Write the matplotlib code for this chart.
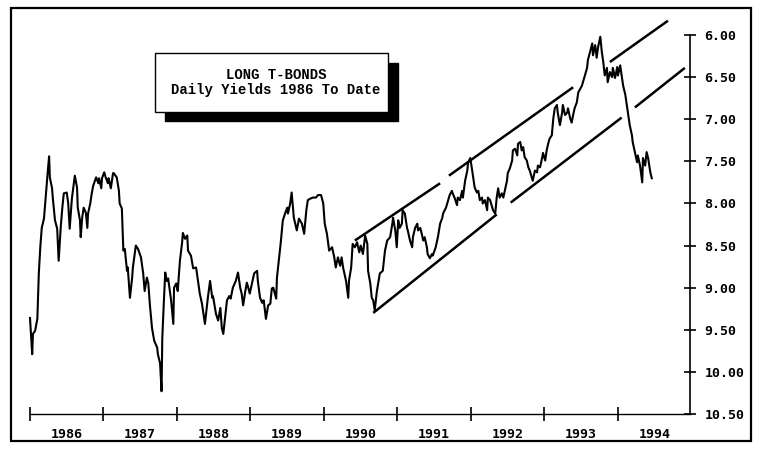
import matplotlib
matplotlib.use('Agg')
import matplotlib.pyplot as plt
from matplotlib.patches import Rectangle

# ---- data ----
# decimal year, long bond yield (%)
years = [
    1986.00, 1986.03, 1986.04, 1986.07, 1986.10, 1986.12, 1986.14, 1986.16, 1986.19, 1986.22,
    1986.24, 1986.26, 1986.27, 1986.30, 1986.31, 1986.34, 1986.37, 1986.39, 1986.42, 1986.44,
    1986.46, 1986.50, 1986.52, 1986.54, 1986.57, 1986.60, 1986.61, 1986.64, 1986.65, 1986.68,
    1986.69, 1986.71, 1986.73, 1986.76, 1986.78, 1986.79, 1986.82, 1986.84, 1986.86, 1986.90,
    1986.93, 1986.94, 1986.97, 1986.98, 1987.01, 1987.03, 1987.06, 1987.07, 1987.10, 1987.13,
    1987.14, 1987.18, 1987.21, 1987.22, 1987.25, 1987.27, 1987.29, 1987.32, 1987.33, 1987.36,
    1987.39, 1987.40, 1987.44, 1987.47, 1987.51, 1987.54, 1987.56, 1987.59, 1987.61, 1987.63,
    1987.66, 1987.69, 1987.73, 1987.74, 1987.77, 1987.79, 1987.80, 1987.82, 1987.84, 1987.86,
    1987.88, 1987.92, 1987.95, 1987.96, 1987.99, 1988.01, 1988.04, 1988.07, 1988.08, 1988.11,
    1988.14, 1988.15, 1988.19, 1988.22, 1988.26, 1988.29, 1988.31, 1988.34, 1988.38, 1988.42,
    1988.45, 1988.48, 1988.49, 1988.53, 1988.56, 1988.59, 1988.61, 1988.63, 1988.65, 1988.68,
    1988.71, 1988.73, 1988.76, 1988.80, 1988.83, 1988.86, 1988.88, 1988.90, 1988.93, 1988.95,
    1988.97, 1988.99, 1989.02, 1989.05, 1989.09, 1989.10, 1989.13, 1989.16, 1989.18, 1989.21,
    1989.24, 1989.27, 1989.29, 1989.31, 1989.35, 1989.36, 1989.39, 1989.41, 1989.44, 1989.47,
    1989.50, 1989.51, 1989.54, 1989.56, 1989.59, 1989.63, 1989.66, 1989.70, 1989.73, 1989.76,
    1989.78, 1989.82, 1989.85, 1989.89, 1989.92, 1989.96, 1989.99, 1990.01, 1990.04, 1990.07,
    1990.11, 1990.14, 1990.16, 1990.19, 1990.22, 1990.24, 1990.26, 1990.30, 1990.33, 1990.34,
    1990.37, 1990.39, 1990.42, 1990.45, 1990.48, 1990.50, 1990.53, 1990.56, 1990.59, 1990.60,
    1990.63, 1990.65, 1990.67, 1990.69, 1990.72, 1990.76, 1990.80, 1990.83, 1990.86, 1990.90,
    1990.93, 1990.94, 1990.97, 1990.99, 1991.01, 1991.03, 1991.06, 1991.07, 1991.10, 1991.13,
    1991.14, 1991.17, 1991.20, 1991.21, 1991.24, 1991.27, 1991.28, 1991.31, 1991.33, 1991.35,
    1991.37, 1991.40, 1991.41, 1991.44, 1991.47, 1991.48, 1991.52, 1991.55, 1991.58, 1991.61,
    1991.62, 1991.66, 1991.69, 1991.71, 1991.74, 1991.76, 1991.78, 1991.81, 1991.82, 1991.85,
    1991.88, 1991.89, 1991.92, 1991.95, 1991.96, 1991.99, 1992.01, 1992.03, 1992.05, 1992.08,
    1992.10, 1992.12, 1992.15, 1992.16, 1992.19, 1992.22, 1992.23, 1992.26, 1992.29, 1992.30,
    1992.33, 1992.35, 1992.37, 1992.39, 1992.42, 1992.44, 1992.46, 1992.49, 1992.50, 1992.53,
    1992.56, 1992.57, 1992.60, 1992.63, 1992.64, 1992.67, 1992.69, 1992.71, 1992.73, 1992.76,
    1992.78, 1992.80, 1992.83, 1992.84, 1992.87, 1992.90, 1992.91, 1992.94, 1992.97, 1992.98,
    1993.01, 1993.03, 1993.05, 1993.07, 1993.10, 1993.12, 1993.14, 1993.17, 1993.18, 1993.21,
    1993.24, 1993.25, 1993.28, 1993.31, 1993.32, 1993.35, 1993.37, 1993.39, 1993.41, 1993.44,
    1993.46, 1993.48, 1993.51, 1993.52, 1993.55, 1993.58, 1993.59, 1993.62, 1993.65, 1993.66,
    1993.69, 1993.71, 1993.73, 1993.76, 1993.78, 1993.80, 1993.82, 1993.85, 1993.86, 1993.89,
    1993.92, 1993.93, 1993.96, 1993.99, 1994.00, 1994.03, 1994.05, 1994.07, 1994.10, 1994.12,
    1994.14, 1994.16, 1994.19, 1994.20, 1994.23, 1994.26, 1994.27, 1994.30, 1994.33, 1994.34,
    1994.37, 1994.39, 1994.41, 1994.44, 1994.46,
]
yields = [
    9.36, 9.79, 9.55, 9.51, 9.37, 8.83, 8.52, 8.29, 8.18, 7.85,
    7.64, 7.44, 7.69, 7.82, 7.93, 8.20, 8.30, 8.68, 8.26, 8.05,
    7.88, 7.87, 8.00, 8.30, 7.94, 7.73, 7.67, 7.81, 8.05, 8.20,
    8.40, 8.17, 8.05, 8.11, 8.29, 8.12, 8.00, 7.88, 7.79, 7.69,
    7.76, 7.70, 7.82, 7.70, 7.63, 7.69, 7.76, 7.70, 7.82, 7.64,
    7.64, 7.69, 7.85, 8.00, 8.06, 8.56, 8.54, 8.80, 8.76, 9.12,
    8.88, 8.76, 8.50, 8.54, 8.64, 8.83, 9.04, 8.88, 8.95, 9.19,
    9.48, 9.63, 9.71, 9.79, 9.90, 10.23, 9.60, 9.19, 8.82, 8.92,
    8.89, 9.15, 9.43, 9.00, 8.95, 9.04, 8.68, 8.46, 8.35, 8.42,
    8.38, 8.56, 8.62, 8.77, 8.76, 8.95, 9.07, 9.19, 9.43, 9.12,
    8.92, 9.12, 9.10, 9.31, 9.39, 9.24, 9.48, 9.55, 9.39, 9.15,
    9.10, 9.13, 9.00, 8.92, 8.82, 9.00, 9.07, 9.21, 9.04, 8.94,
    9.00, 9.07, 8.95, 8.83, 8.80, 8.92, 9.12, 9.18, 9.15, 9.37,
    9.21, 9.19, 9.01, 9.00, 9.13, 8.88, 8.64, 8.48, 8.20, 8.12,
    8.05, 8.12, 8.00, 7.87, 8.17, 8.32, 8.18, 8.24, 8.36, 8.08,
    7.96, 7.94, 7.93, 7.93, 7.90, 7.90, 8.00, 8.24, 8.36, 8.56,
    8.52, 8.64, 8.76, 8.64, 8.74, 8.64, 8.76, 8.92, 9.12, 8.92,
    8.76, 8.48, 8.52, 8.46, 8.58, 8.50, 8.60, 8.38, 8.48, 8.80,
    8.95, 9.12, 9.15, 9.27, 9.04, 8.83, 8.80, 8.56, 8.44, 8.40,
    8.24, 8.17, 8.32, 8.52, 8.20, 8.29, 8.24, 8.08, 8.12, 8.29,
    8.32, 8.44, 8.52, 8.40, 8.29, 8.24, 8.32, 8.29, 8.36, 8.44,
    8.40, 8.52, 8.60, 8.65, 8.60, 8.62, 8.52, 8.40, 8.24, 8.17,
    8.12, 8.05, 7.96, 7.90, 7.85, 7.90, 7.94, 8.02, 7.93, 7.96,
    7.85, 7.93, 7.73, 7.61, 7.52, 7.46, 7.57, 7.69, 7.81, 7.87,
    7.85, 7.96, 7.93, 8.00, 7.96, 8.08, 7.93, 7.96, 8.05, 8.08,
    8.12, 7.93, 7.82, 7.93, 7.88, 7.93, 7.85, 7.73, 7.64, 7.58,
    7.49, 7.37, 7.35, 7.43, 7.29, 7.27, 7.37, 7.33, 7.45, 7.49,
    7.57, 7.61, 7.70, 7.73, 7.61, 7.63, 7.55, 7.57, 7.45, 7.40,
    7.49, 7.37, 7.29, 7.23, 7.19, 6.99, 6.87, 6.83, 6.92, 7.07,
    6.92, 6.83, 6.95, 6.92, 6.87, 6.99, 7.04, 6.95, 6.87, 6.80,
    6.68, 6.65, 6.60, 6.57, 6.48, 6.39, 6.30, 6.20, 6.10, 6.24,
    6.12, 6.27, 6.14, 6.02, 6.20, 6.32, 6.48, 6.39, 6.56, 6.44,
    6.50, 6.39, 6.51, 6.38, 6.48, 6.36, 6.48, 6.60, 6.71, 6.83,
    6.95, 7.07, 7.19, 7.27, 7.39, 7.51, 7.43, 7.55, 7.75, 7.46,
    7.55, 7.39, 7.46, 7.63, 7.70,
]

# trend channel, drawn as broken pieces: (year0, yield0, year1, yield1)
upper_channel = [(1990.42, 8.44, 1991.58, 7.76),
                 (1991.70, 7.67, 1993.39, 6.62),
                 (1993.89, 6.32, 1994.68, 5.83)]
lower_channel = [(1990.67, 9.30, 1992.35, 8.13),
                 (1992.54, 7.99, 1994.05, 6.98),
                 (1994.23, 6.86, 1994.91, 6.39)]

year_labels = ['1986', '1987', '1988', '1989', '1990', '1991', '1992', '1993', '1994']
ytick_vals = [6.0, 6.5, 7.0, 7.5, 8.0, 8.5, 9.0, 9.5, 10.0, 10.5]

title_lines = ['LONG T-BONDS', 'Daily Yields 1986 To Date']

# ---- figure ----
W, H = 765, 457


def fx(px):
    return px / W


def fy(py):
    return 1 - py / H


fig = plt.figure(figsize=(W / 100, H / 100), dpi=100)
ax = fig.add_axes([fx(20), fy(414), fx(690) - fx(20), fy(15) - fy(414)])

ax.plot(years, yields, color='black', lw=1.5)
for seg in upper_channel + lower_channel:
    ax.plot([seg[0], seg[2]], [seg[1], seg[3]], color='black', lw=1.8,
            solid_capstyle='butt')

ax.set_xlim(1985.864, 1994.98)
ax.set_ylim(10.5, 5.762)

ax.spines['left'].set_visible(False)
ax.spines['top'].set_visible(False)
ax.spines['right'].set_bounds(6.0, 10.5)
ax.spines['bottom'].set_bounds(1986, 1994.98)
ax.spines['right'].set_linewidth(1.2)
ax.spines['bottom'].set_linewidth(1.0)

tick_font = {'family': 'DejaVu Sans Mono', 'weight': 'bold', 'size': 9.5}

# y axis on the right
ax.yaxis.tick_right()
ax.set_yticks(ytick_vals)
ax.set_yticklabels(['%.2f' % v for v in ytick_vals], fontdict=tick_font)
ax.tick_params(axis='y', direction='inout', length=9, width=1.2, pad=6)

# x axis: year boundaries as ticks, names in the middle of each year
start = int(year_labels[0])
ax.set_xticks([start + i for i in range(len(year_labels))])
ax.set_xticklabels([])
ax.set_xticks([start + i + 0.5 for i in range(len(year_labels))], minor=True)
ax.set_xticklabels(year_labels, minor=True, fontdict=tick_font)
ax.tick_params(axis='x', which='major', direction='inout', length=10, width=1.2)
ax.tick_params(axis='x', which='minor', length=0, pad=10)

# title box with drop shadow
fig.patches.append(Rectangle((fx(165), fy(121)), fx(398) - fx(165), fy(63) - fy(121),
                             transform=fig.transFigure, facecolor='black',
                             edgecolor='black', zorder=2))
fig.patches.append(Rectangle((fx(155), fy(112)), fx(388) - fx(155), fy(53) - fy(112),
                             transform=fig.transFigure, facecolor='white',
                             edgecolor='black', lw=1.0, zorder=3))
fig.text(fx(276), fy(75), title_lines[0], ha='center', va='center',
         family='Liberation Mono', weight='bold', size=10, zorder=4)
fig.text(fx(276), fy(90), title_lines[1], ha='center', va='center',
         family='Liberation Mono', weight='bold', size=10, zorder=4)

# outer frame
fig.patches.append(Rectangle((fx(11), fy(441)), fx(751) - fx(11), fy(8) - fy(441),
                             transform=fig.transFigure, fill=False,
                             edgecolor='black', lw=1.6, zorder=5))

fig.savefig('out.png', dpi=100)
